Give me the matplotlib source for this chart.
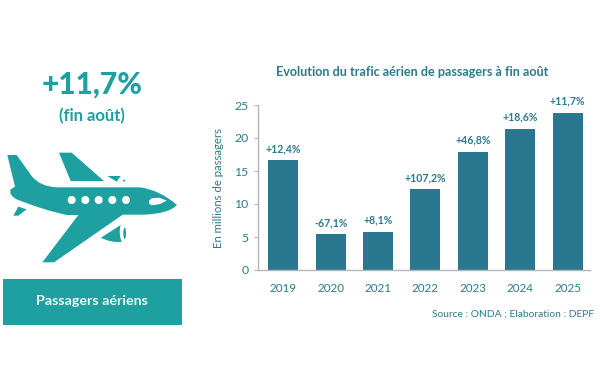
import matplotlib
matplotlib.use("Agg")
import matplotlib.pyplot as plt
from matplotlib.path import Path
from matplotlib.patches import PathPatch, Polygon, Circle, Ellipse, Rectangle

years = ["2019", "2020", "2021", "2022", "2023", "2024", "2025"]
passengers = [16.6, 5.4, 5.8, 12.2, 17.9, 21.4, 23.8]
growth = ["+12,4%", "-67,1%", "+8,1%", "+107,2%", "+46,8%", "+18,6%", "+11,7%"]
y_ticks = [0, 5, 10, 15, 20, 25]

TEAL = "#1fa0a0"
BAR = "#2a7890"
TXT = "#2b7a8c"
W, H = 600, 372
plt.rcParams["font.family"] = ["Lato", "DejaVu Sans"]

fig = plt.figure(figsize=(W / 100, H / 100), dpi=100)

# left panel, drawn in pixels
bg = fig.add_axes([0, 0, 1, 1])
bg.set_xlim(0, W); bg.set_ylim(H, 0); bg.axis("off")


def pt(x, y):
    # zoom crop coordinates -> picture pixels
    return (x / 3, y / 3 + 50)


def poly(points, color=TEAL):
    bg.add_patch(Polygon([pt(*p) for p in points], closed=True, fc=color, ec="none"))


bg.text(92, 85, "+11,7%", color=TEAL, fontsize=21.5, fontweight=900, ha="center", va="center")
bg.text(92, 116, "(fin août)", color=TEAL, fontsize=12, fontweight="bold", ha="center", va="center")

# plane icon
body = [
    (Path.MOVETO, (22, 315)), (Path.LINETO, (50, 315)), (Path.LINETO, (95, 378)),
    (Path.CURVE3, (120, 410)), (Path.LINETO, (170, 412)),
    (Path.LINETO, (420, 412)), (Path.CURVE3, (480, 420)), (Path.LINETO, (531, 465)),
    (Path.CURVE3, (505, 492)), (Path.LINETO, (430, 494)),
    (Path.LINETO, (368, 494)), (Path.LINETO, (162, 637)), (Path.LINETO, (127, 637)),
    (Path.LINETO, (235, 495)), (Path.LINETO, (200, 495)),
    (Path.CURVE3, (130, 480)), (Path.LINETO, (50, 448)),
    (Path.CURVE3, (25, 435)), (Path.LINETO, (32, 418)),
    (Path.LINETO, (45, 410)), (Path.CLOSEPOLY, (22, 315)),
]
bg.add_patch(PathPatch(Path([pt(*b[1]) for b in body], [b[0] for b in body]), fc=TEAL, ec="none"))
poly([(177, 308), (215, 308), (312, 393), (212, 393)])
poly([(322, 378), (362, 378), (350, 395)])
poly([(55, 470), (80, 478), (55, 497), (40, 497)])
engine = [
    (Path.MOVETO, (303, 563)), (Path.LINETO, (362, 525)),
    (Path.CURVE3, (355, 550)), (Path.LINETO, (365, 576)),
    (Path.CURVE3, (330, 578)), (Path.LINETO, (303, 563)),
]
bg.add_patch(PathPatch(Path([pt(*b[1]) for b in engine], [b[0] for b in engine]), fc=TEAL, ec="none"))
bg.add_patch(Ellipse(pt(374, 550), 8 / 3, 34 / 3, fc=TEAL, ec="none"))
bg.add_patch(Circle(pt(372, 392), 1, fc=TEAL, ec="none"))
for wx in (215, 256, 296, 337, 378):
    bg.add_patch(Circle(pt(wx, 450), 4, fc="white", ec="none"))
poly([(447, 452), (455, 445), (478, 443), (500, 452), (480, 462), (455, 466), (447, 460)], "white")

bg.add_patch(Rectangle((3, 279), 179, 46, fc=TEAL, ec="none"))
bg.text(92, 301, "Passagers aériens", color="#eef8f8", fontsize=10.3, fontweight="bold", ha="center", va="center")

bg.text(412.5, 72, "Evolution du trafic aérien de passagers à fin août", color=TXT, fontsize=9.05,
        fontweight="bold", ha="center", va="center")
bg.text(512.5, 314, "Source : ONDA ; Elaboration : DEPF", color=TXT, fontsize=7.35, ha="center", va="center")

# bar chart
ax = fig.add_axes([258 / W, 1 - 270 / H, 332 / W, 165 / H])
ax.patch.set_alpha(0)
pos = list(range(len(years)))
ax.bar(pos, passengers, width=0.63, color=BAR)
for p, v, g in zip(pos, passengers, growth):
    ax.annotate(g, (p, v), xytext=(0, 4.5), textcoords="offset points", ha="center", va="bottom",
                color=TXT, fontsize=7.6, fontweight="bold")
ax.set_xlim(-0.53, 6.47)
ax.set_ylim(0, 25)
ax.set_xticks(pos, years)
ax.set_yticks(y_ticks)
ax.tick_params(axis="x", length=0, pad=9, labelsize=8.4, labelcolor=TXT)
ax.tick_params(axis="y", length=3, width=0.8, color="#b5b5b5", pad=4, labelsize=8.8, labelcolor=TXT)
for s in ("top", "right"):
    ax.spines[s].set_visible(False)
for s in ("left", "bottom"):
    ax.spines[s].set_color("#b5b5b5")
    ax.spines[s].set_linewidth(1)
ax.set_ylabel("En millions de passagers", color=TXT, fontsize=8.2, labelpad=7)

fig.savefig("out.png", dpi=100)
